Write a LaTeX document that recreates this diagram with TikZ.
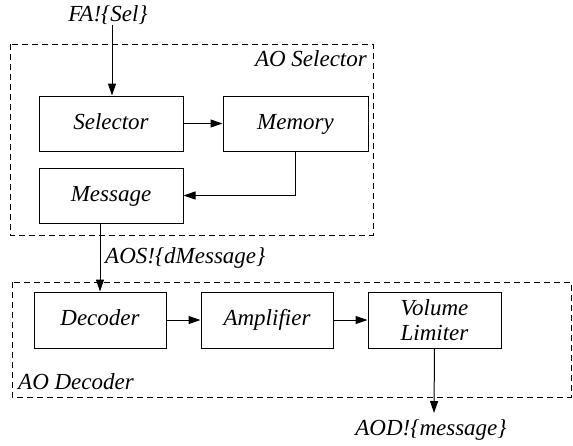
\documentclass[tikz,border=0pt]{standalone}
\usepackage{fontspec}
\setmainfont{Liberation Serif}
\usetikzlibrary{arrows.meta}
\begin{document}
\begin{tikzpicture}[x=1pt,y=-1pt,
  blk/.style={draw,line width=1pt,rectangle,minimum width=144pt,minimum height=55pt,inner sep=0pt,text height=16pt,text depth=5pt,font=\fontsize{23}{25}\selectfont\itshape},
  group/.style={draw,line width=0.9pt,dash pattern=on 6pt off 4pt},
  lbl/.style={inner sep=0pt,font=\fontsize{23}{25}\selectfont\itshape},
  conn/.style={line width=1pt,-{Triangle[length=12pt,width=8pt]}}]
\useasboundingbox (0,0) rectangle (573,445);
% outer groups
\draw[group] (10,44) rectangle (373,235);
\draw[group] (12,282) rectangle (571,397);
\node[lbl,anchor=east] (aosel) at (367,59) {AO Selector};
\node[lbl,anchor=west] (aodec) at (18,382) {AO Decoder};
% selector stage
\node[blk] (sel) at (111,123.5) {Selector};
\node[blk,minimum width=145pt] (mem) at (295.5,123.5) {Memory};
\node[blk] (msg) at (111,195.5) {Message};
% decoder stage
\node[blk,minimum width=132pt,minimum height=56pt] (dec) at (100,320) {Decoder};
\node[blk,minimum width=132pt,minimum height=56pt] (amp) at (267,320) {Amplifier};
\node[blk,minimum width=133pt,minimum height=56pt,text height=,text depth=,align=center,font=\fontsize{23}{25}\selectfont\itshape] (vol) at (434.5,320) {Volume\\Limiter};
% external signals
\node[lbl] (fa) at (108,15) {FA!\{Sel\}};
\node[lbl,anchor=west] (aos) at (105,258) {AOS!\{dMessage\}};
\node[lbl] (aod) at (431,430) {AOD!\{message\}};
\coordinate (aodtip) at (434,413);
% connectors
\draw[conn] (fa.south -| 112,0) -- (sel.north -| 112,0);
\draw[conn] (sel.east) -- (mem.west);
\draw[conn] (mem.south) |- (msg.east);
\draw[conn] (msg.south -| 100,0) -- (dec.north -| 100,0);
\draw[conn] (dec.east) -- (amp.west);
\draw[conn] (amp.east) -- (vol.west);
\draw[conn] (vol.south) -- (aodtip);
\end{tikzpicture}
\end{document}
